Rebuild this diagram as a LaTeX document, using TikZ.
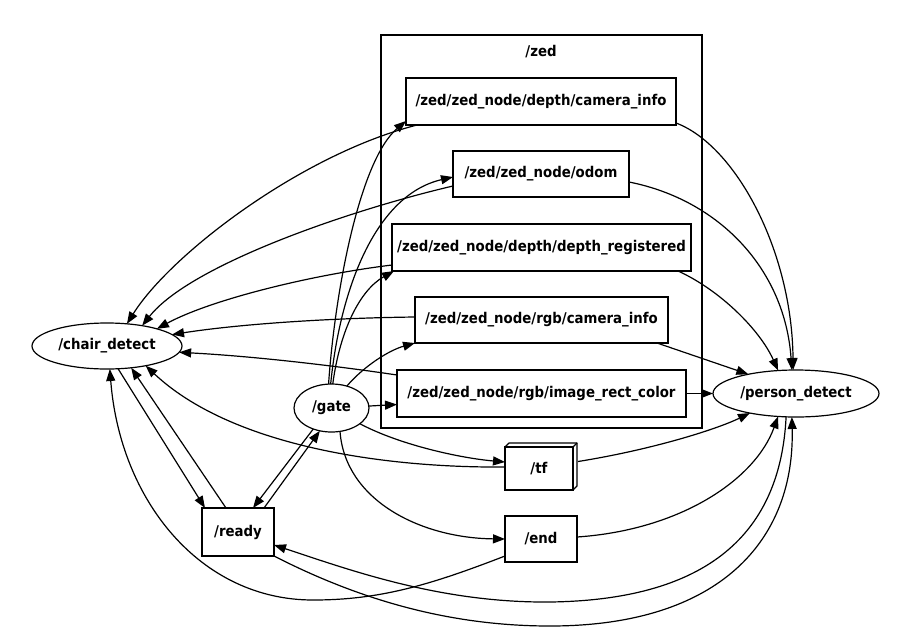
\documentclass[tikz,border=0pt]{standalone}
\usepackage{fontspec}
\newfontfamily\lbl[FakeStretch=0.9]{DejaVu Sans}
\usetikzlibrary{shapes.geometric,arrows.meta,calc}
\begin{document}
\begin{tikzpicture}[x=1pt,y=-1pt,
  every node/.style={font=\lbl\bfseries\fontsize{14.8}{17}\selectfont, inner sep=0pt, outer sep=0pt},
  topic/.style={draw, line width=1.4pt, rectangle, minimum height=47pt},
  rosnode/.style={draw, line width=1.2pt, ellipse},
  edge/.style={line width=1.2pt, -{Triangle[length=12pt,width=9pt]}},
  plainline/.style={line width=1.2pt}
]
\useasboundingbox (0,0) rectangle (909,643);
% cluster
\node[draw, line width=1.2pt, minimum width=321pt, minimum height=393pt] (zed) at (541.5,231.5) {};
\node (zedlbl) at (541,52) {/zed};
% topics
\node[topic, minimum width=270pt] (dci) at (541,101.5) {/zed/zed\_node/depth/camera\_info};
\node[topic, minimum width=176pt, minimum height=46pt] (odom) at (541,174) {/zed/zed\_node/odom};
\node[topic, minimum width=299pt] (dreg) at (541.5,247.5) {/zed/zed\_node/depth/depth\_registered};
\node[topic, minimum width=253pt, minimum height=46pt] (rci) at (541.5,320) {/zed/zed\_node/rgb/camera\_info};
\node[topic, minimum width=289pt] (irc) at (541.5,393.5) {/zed/zed\_node/rgb/image\_rect\_color};
\node[topic, minimum width=72pt, minimum height=48pt] (ready) at (238,532) {/ready};
\node[topic, minimum width=68pt, minimum height=43pt] (tf) at (539,468.5) {/tf};
\node[topic, minimum width=72pt, minimum height=46pt] (endt) at (541,539) {/end};
\draw[line width=1.2pt, line join=round] (tf.north west) -- ++(4,-4) -- ($(tf.north east)+(4,-4)$) -- ($(tf.south east)+(4,-4)$) -- (tf.south east);
\draw[line width=1.2pt] (tf.north east) -- ++(4,-4);
% ros nodes
\node[rosnode, minimum width=150pt, minimum height=46pt] (chair) at (107,346) {/chair\_detect};
\node[rosnode, minimum width=75pt, minimum height=48pt] (gate) at (331.5,408) {/gate};
\node[rosnode, minimum width=166pt, minimum height=47pt] (person) at (796,393.5) {/person\_detect};

% gate -> topics
\draw[edge] (gate.97) .. controls (335,290) and (360,160) .. ($(dci.south west)+(0,-4)$);
\draw[edge] (gate.92) .. controls (340,290) and (375,195) .. ($(odom.west)+(0,3)$);
\draw[edge] (gate.87) .. controls (340,330) and (360,290) .. ($(dreg.south west)+(2,0)$);
\draw[edge] (gate.55) .. controls (365,365) and (390,350) .. (rci.south west);
\draw[edge] (gate.3) -- ($(irc.west)+(0,11)$);
\draw[edge] (gate.331) .. controls (400,445) and (460,458) .. ($(tf.west)+(0,-6.5)$);
\draw[edge] (gate.290) .. controls (345,500) and (420,538) .. (endt.west);
\draw[edge] (gate.229) -- ($(ready.north west)+(51,0)$);
\draw[edge] ($(ready.north west)+(62,0)$) -- (gate.243);

% topics -> chair
\draw[edge] ($(dci.south west)+(11,0)$) .. controls (300,155) and (170,255) .. (chair.48);
\draw[edge] ($(odom.south west)+(0,-11)$) .. controls (350,210) and (190,265) .. (chair.30);
\draw[edge] ($(dreg.south west)+(0,-6)$) .. controls (310,275) and (210,300) .. (chair.19);
\draw[edge] ($(rci.west)+(0,-3)$) .. controls (330,318) and (240,324) .. (chair.10);
\draw[edge] ($(irc.north west)+(0,5)$) .. controls (330,365) and (250,356) .. (chair.355);
\draw[edge] ($(tf.west)+(0,-1.5)$) .. controls (380,468) and (230,445) .. (chair.333);
\draw[edge] ($(endt.south west)+(0,-6)$) .. controls (430,585) and (380,600) .. (313,600) .. controls (200,600) and (120,500) .. (chair.277);
\draw[edge] (chair.296) -- ($(ready.north west)+(3,0)$);
\draw[edge] ($(ready.north west)+(24,0)$) -- (chair.318);

% topics -> person
\draw[edge] ($(dci.south east)+(0,-2)$) .. controls (735,145) and (792,250) .. (person.97);
\draw[edge] ($(odom.south east)+(0,-15)$) .. controls (720,200) and (785,270) .. (person.100);
\draw[edge] ($(dreg.south east)+(-13,0)$) .. controls (720,290) and (760,330) .. (person.128);
\draw[edge] ($(rci.south east)+(-11,0)$) -- (person.158);
\draw[edge] (irc.east) -- (person.west);
\draw[edge] ($(tf.east)+(5,-7)$) .. controls (650,450) and (715,430) .. (person.203);
\draw[edge] ($(endt.east)+(0,-2)$) .. controls (680,530) and (755,480) .. (person.232);
\draw[edge] (person.247) .. controls (780,540) and (700,600) .. (550,602) .. controls (440,603) and (350,570) .. ($(ready.south east)+(0,-11)$);
\draw[edge] (ready.south east) .. controls (360,600) and (450,626) .. (550,626) .. controls (720,626) and (795,540) .. (person.260);
\end{tikzpicture}
\end{document}
